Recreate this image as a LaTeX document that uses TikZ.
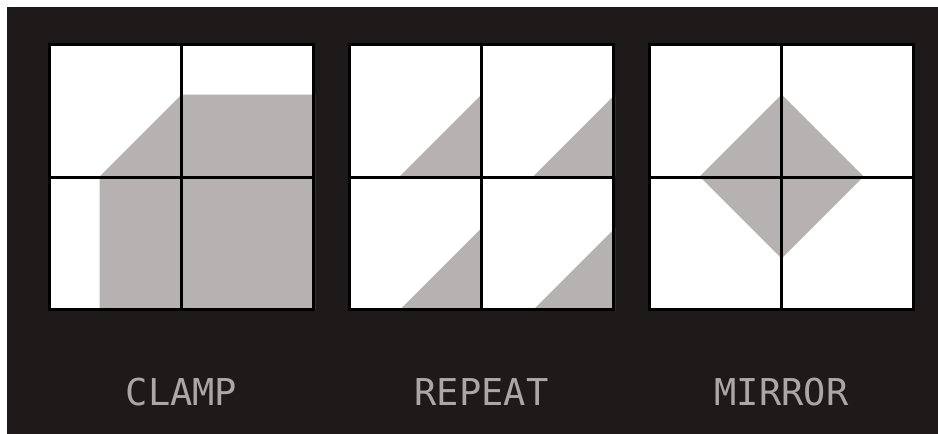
\documentclass[tikz,border=0pt]{standalone}
\usepackage{fontspec}
\newfontfamily\labelmono{DejaVu Sans Mono}
\definecolor{bgdark}{HTML}{1E1A1A}
\definecolor{texgray}{HTML}{B6B2B2}
\definecolor{labgray}{HTML}{ABA7A7}
\begin{document}
\begin{tikzpicture}[x=1pt,y=-1pt,
  panel/.style={fill=white},
  gridline/.style={draw=black,line width=3pt},
  shade/.style={fill=texgray},
  caption/.style={text=labgray,font=\labelmono\fontsize{37}{40}\selectfont,anchor=base,inner sep=0pt}]
\useasboundingbox (0,0) rectangle (938,434);
\fill[white] (0,0) rectangle (938,434);
\fill[bgdark] (7,7) rectangle (938,434);
% panels
\foreach \L in {48,348,648}{
  \fill[panel] (\L,43) rectangle ++(267,268);
}
% CLAMP
\begin{scope}[shift={(48,43)}]
  \fill[shade] (51.5,133.5) -- (133.5,51.5) -- (267,51.5) -- (267,267) -- (51.5,267) -- cycle;
\end{scope}
% REPEAT
\begin{scope}[shift={(348,43)}]
  \foreach \ox in {0,133.5}{
    \foreach \oy in {0,133.5}{
      \fill[shade] (\ox+51.5,\oy+133.5) -- (\ox+133.5,\oy+51.5) -- (\ox+133.5,\oy+133.5) -- cycle;
    }
  }
\end{scope}
% MIRROR
\begin{scope}[shift={(648,43)}]
  \fill[shade] (51.5,133.5) -- (133.5,51.5) -- (215.5,133.5) -- (133.5,215.5) -- cycle;
\end{scope}
% grids
\foreach \L in {48,348,648}{
  \begin{scope}[shift={(\L,43)}]
    \draw[gridline] (1.5,1.5) rectangle (265.5,266.5);
    \draw[gridline] (133.5,1.5) -- (133.5,266.5);
    \draw[gridline] (1.5,134) -- (265.5,134);
  \end{scope}
}
\node[caption] (clamp) at (181.5,405) {CLAMP};
\node[caption] (repeat) at (481.5,405) {REPEAT};
\node[caption] (mirror) at (781.5,405) {MIRROR};
\end{tikzpicture}
\end{document}
